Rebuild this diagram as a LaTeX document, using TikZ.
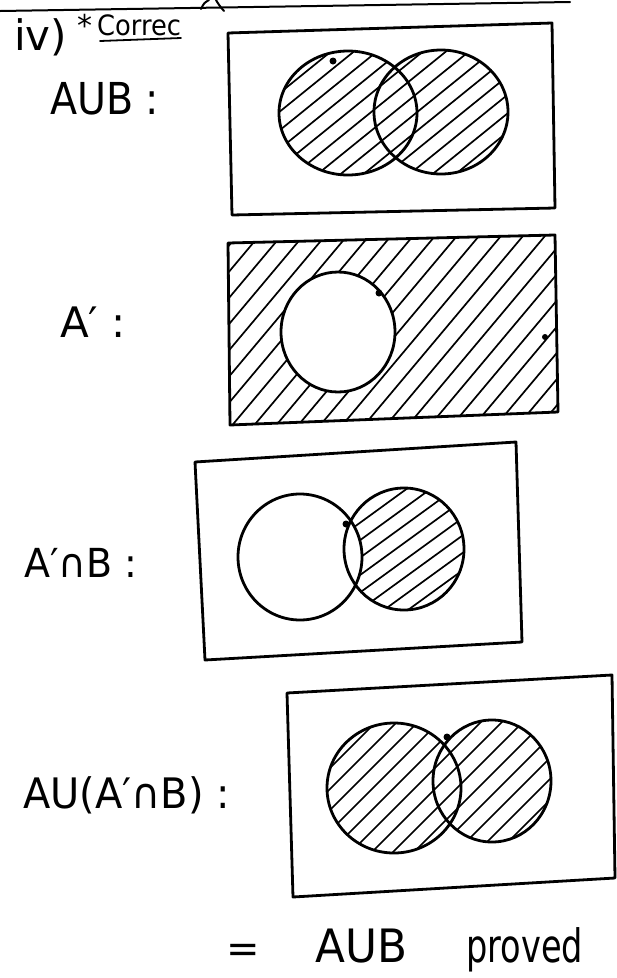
\documentclass[tikz,border=0pt]{standalone}
\usepackage{fontspec}
\setmainfont{DejaVu Sans}
\newcommand{\hatchfill}[6]{%
  \pgfmathsetmacro\hhgt{#4-#3}%
  \pgfmathsetmacro\hdx{\hhgt/tan(#5)}%
  \pgfmathsetmacro\hstart{#1-\hdx}%
  \pgfmathsetmacro\hsecond{\hstart+#6}%
  \foreach \xx in {\hstart,\hsecond,...,#2} {\draw[hatch] (\xx,#4) -- ++(\hdx,-\hhgt);}%
}
\begin{document}
\begin{tikzpicture}[x=1pt,y=-1pt,line cap=round,line join=round,
  edge/.style={line width=2.8pt},
  hatch/.style={line width=1.7pt},
  blob/.style={fill=black},
  lbl/.style={inner sep=0pt,anchor=base west}]
\useasboundingbox (0,0) rectangle (617,978);
% top rule
\draw[line width=2pt] (0,11) -- (570,2);
\draw[line width=2pt] (201,9) .. controls (204,3) .. (209,0);
\draw[line width=2pt] (216,0) .. controls (219,5) .. (224,11);
% labels
\node[lbl,font=\fontsize{42}{42}\selectfont] (iv) at (14,50) {iv)};
\node[lbl,font=\fontsize{30}{30}\selectfont] (star) at (77,36) {*};
\node[lbl,font=\fontsize{28}{28}\selectfont] (cor) at (97,35) {\scalebox{0.92}[1]{Correc}};
\draw[line width=1.8pt] (100,41) -- (181,38);
\node[lbl,font=\fontsize{44}{44}\selectfont] (l1) at (50,114) {\scalebox{0.9}[1]{AUB :}};
\node[lbl,font=\fontsize{42}{42}\selectfont] (l2) at (60,337) {A′ :};
\node[lbl,font=\fontsize{40}{40}\selectfont] (l3) at (24,577) {\scalebox{0.95}[1]{A′∩B :}};
\node[lbl,font=\fontsize{42}{42}\selectfont] (l4) at (23,808) {\scalebox{0.95}[1]{AU(A′∩B) :}};
\node[lbl,font=\fontsize{40}{40}\selectfont] (eq) at (226,962) {=};
\node[lbl,font=\fontsize{46}{46}\selectfont] (res) at (315,962) {\scalebox{0.95}[1]{AUB}};
\node[lbl,font=\fontsize{46}{46}\selectfont] (prv) at (466,962) {\scalebox{0.73}[1]{proved}};
% ---------- panel 1 : A union B
\begin{scope}
  \clip (348,113) ellipse [x radius=69, y radius=62]
        (441,112) ellipse [x radius=67, y radius=62];
  \hatchfill{270}{515}{45}{180}{39}{23}
\end{scope}
\draw[edge] (228,33) -- (552,23) -- (555,208) -- (232,215) -- cycle;
\draw[edge] (348,113) ellipse [x radius=69, y radius=62];
\draw[edge] (441,112) ellipse [x radius=67, y radius=62];
\fill[blob] (333,61) circle (3.5);
% ---------- panel 2 : A'
\begin{scope}[even odd rule]
  \clip (228,243) -- (555,235) -- (558,412) -- (230,425) -- cycle
        (338,332) ellipse [x radius=57, y radius=60];
  \hatchfill{220}{565}{230}{430}{50}{22}
\end{scope}
\draw[edge] (228,243) -- (555,235) -- (558,412) -- (230,425) -- cycle;
\draw[edge] (338,332) ellipse [x radius=57, y radius=60];
\fill[blob] (379,293) circle (3.5);
\fill[blob] (545,337) circle (3);
% ---------- panel 3 : A' intersect B
\begin{scope}[even odd rule]
  \clip (404,549) ellipse [x radius=60, y radius=61];
  \clip (300,557) ellipse [x radius=62, y radius=63]
        (150,400) rectangle (600,700);
  \hatchfill{340}{470}{485}{615}{36}{24}
\end{scope}
\draw[edge] (195,462) -- (516,442) -- (522,642) -- (205,660) -- cycle;
\draw[edge] (300,557) ellipse [x radius=62, y radius=63];
\draw[edge] (404,549) ellipse [x radius=60, y radius=61];
\fill[blob] (346,524) circle (3.5);
% ---------- panel 4 : A union (A' intersect B)
\begin{scope}
  \clip (394,788) ellipse [x radius=67, y radius=65]
        (492,781) ellipse [x radius=59, y radius=61];
  \hatchfill{320}{560}{715}{860}{45}{21}
\end{scope}
\draw[edge] (287,693) -- (612,675) -- (615,878) -- (293,897) -- cycle;
\draw[edge] (394,788) ellipse [x radius=67, y radius=65];
\draw[edge] (492,781) ellipse [x radius=59, y radius=61];
\fill[blob] (447,737) circle (3.5);
\end{tikzpicture}
\end{document}
